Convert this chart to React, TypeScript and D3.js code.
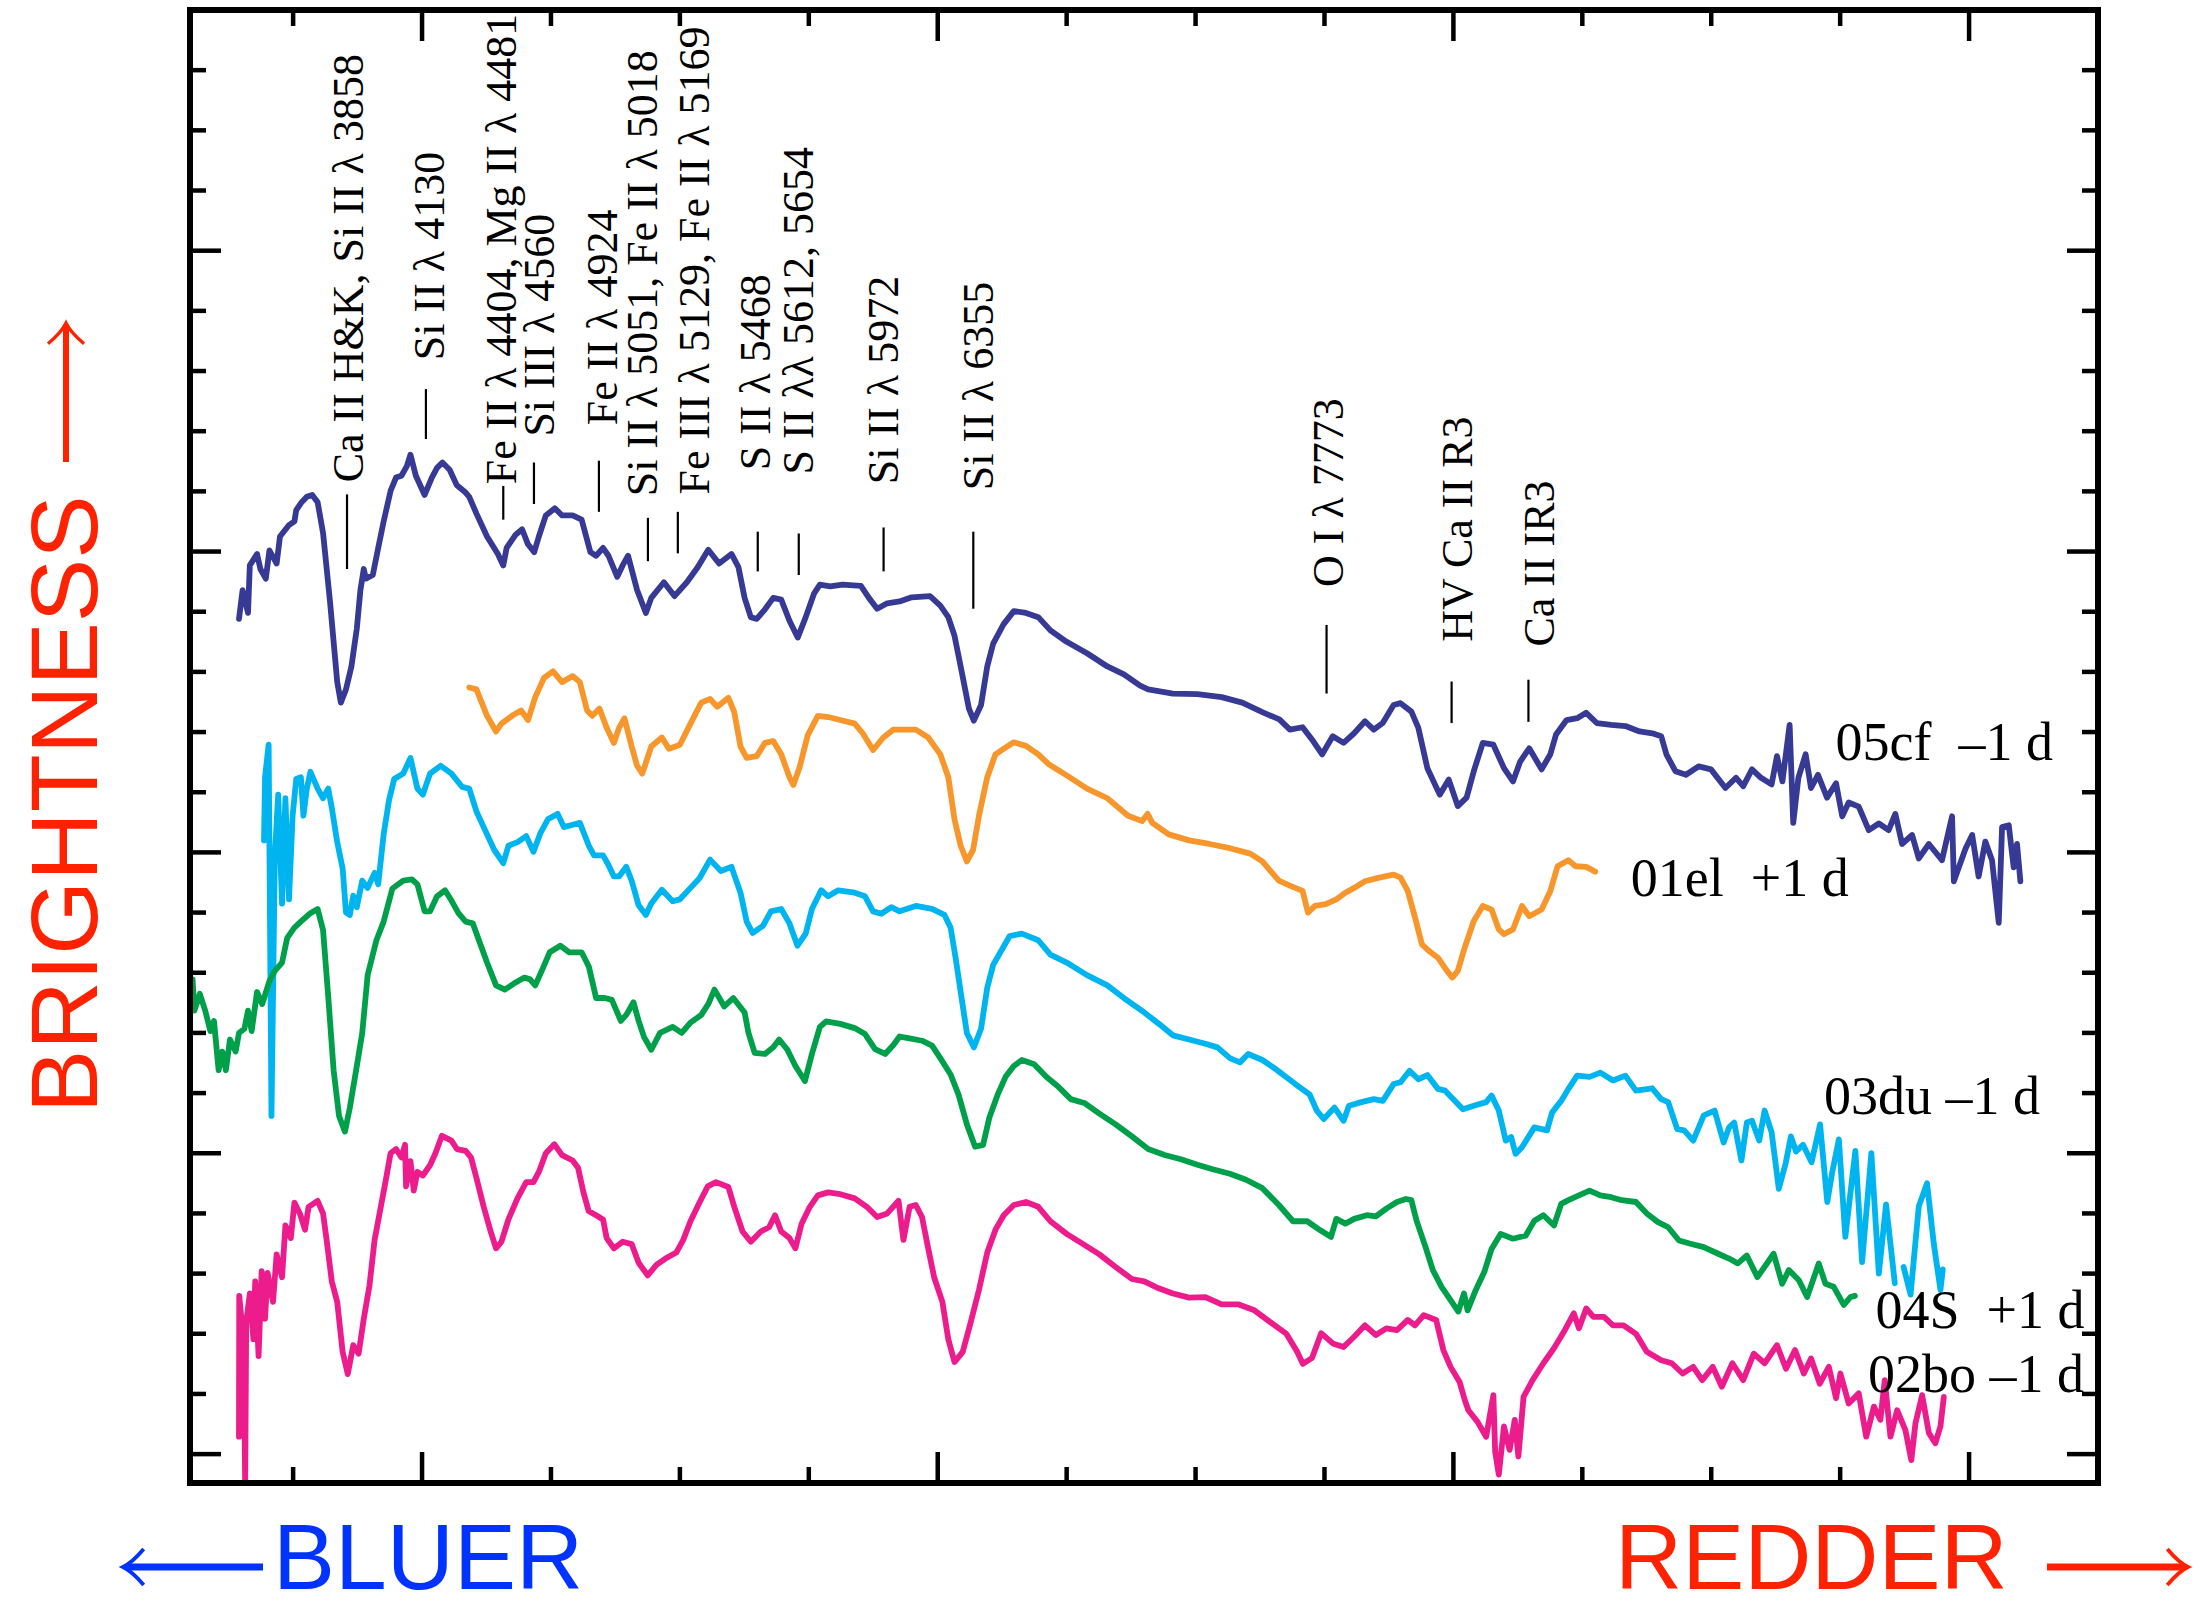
import React from "react";
import * as d3 from "d3";

type Pt = [number, number | null];

// Wavelength domain (Å) and flux domain (relative flux + offset, 1 unit = 1 tick)
const LAM_DOMAIN: [number, number] = [3100, 10500];
const FLUX_DOMAIN: [number, number] = [-0.48, 24];
const X_TICKS = d3.range(3500, 10001, 500);
const X_MAJOR = [4000, 6000, 8000, 10000];
const Y_TICKS = d3.range(0, 24, 1);

const sn05cf: Pt[] = [[3290,13.88],[3304,14.36],[3325,13.98],[3332,14.77],[3360,14.96],[3373,14.71],[3394,14.55],[3408,15.02],[3436,14.80],[3449,15.25],[3484,15.44],[3505,15.50],[3512,15.69],[3533,15.82],[3553,15.91],[3574,15.94],[3595,15.82],[3616,15.31],[3643,14.17],[3671,12.83],[3685,12.49],[3705,12.71],[3726,13.09],[3747,13.72],[3761,14.36],[3774,14.71],[3782,14.55],[3809,14.61],[3830,15.06],[3851,15.50],[3878,16.01],[3899,16.23],[3920,16.26],[3941,16.42],[3955,16.61],[3976,16.26],[4010,15.94],[4038,16.23],[4058,16.39],[4079,16.48],[4107,16.36],[4135,16.10],[4169,15.98],[4183,15.91],[4211,15.63],[4252,15.25],[4294,14.96],[4315,14.77],[4328,15.06],[4363,15.28],[4388,15.37],[4411,15.12],[4435,14.99],[4453,15.25],[4480,15.60],[4515,15.72],[4543,15.60],[4584,15.60],[4619,15.53],[4653,14.99],[4675,14.93],[4702,15.06],[4723,14.93],[4757,14.58],[4778,14.77],[4799,14.93],[4834,14.36],[4868,13.98],[4889,14.23],[4938,14.49],[4979,14.26],[5027,14.49],[5069,14.74],[5110,15.03],[5152,14.80],[5200,14.96],[5227,14.74],[5251,14.23],[5275,13.91],[5298,13.88],[5330,14.04],[5362,14.23],[5393,14.20],[5425,13.85],[5457,13.57],[5488,13.91],[5520,14.30],[5543,14.45],[5583,14.42],[5631,14.45],[5702,14.43],[5733,14.23],[5765,14.05],[5804,14.14],[5852,14.17],[5899,14.24],[5970,14.26],[6010,14.10],[6041,13.91],[6065,13.60],[6089,13.09],[6121,12.39],[6140,12.19],[6168,12.45],[6192,13.09],[6215,13.47],[6255,13.79],[6295,14.01],[6342,13.98],[6390,13.91],[6437,13.69],[6500,13.50],[6579,13.31],[6658,13.09],[6722,12.96],[6785,12.77],[6816,12.71],[6912,12.64],[7007,12.63],[7101,12.58],[7181,12.49],[7259,12.33],[7325,12.21],[7366,12.04],[7415,12.08],[7456,11.85],[7491,11.63],[7532,11.93],[7574,11.82],[7615,11.98],[7657,12.18],[7691,12.04],[7726,12.15],[7768,12.45],[7795,12.48],[7837,12.34],[7864,12.07],[7899,11.40],[7947,10.96],[7982,11.21],[8017,10.77],[8051,10.91],[8079,11.35],[8114,11.82],[8155,11.79],[8196,11.40],[8231,11.18],[8259,11.51],[8294,11.73],[8342,11.38],[8376,11.63],[8398,11.96],[8439,12.20],[8480,12.23],[8515,12.32],[8556,12.15],[8612,12.12],[8667,12.10],[8722,12.01],[8771,11.98],[8806,11.93],[8826,11.63],[8861,11.35],[8902,11.29],[8951,11.43],[8999,11.38],[9055,11.07],[9096,11.24],[9124,11.10],[9158,11.38],[9193,11.24],[9234,11.13],[9255,11.60],[9276,11.18],[9304,12.12],[9318,10.49],[9338,11.24],[9366,11.63],[9387,11.07],[9414,11.29],[9449,10.91],[9484,11.15],[9508,10.60],[9533,10.83],[9572,10.76],[9611,10.37],[9650,10.48],[9688,10.37],[9714,10.64],[9740,10.14],[9779,10.29],[9805,9.90],[9844,10.14],[9895,9.87],[9934,10.60],[9941,9.52],[9986,10.06],[10012,10.29],[10037,9.60],[10063,10.18],[10089,9.87],[10115,8.83],[10128,10.42],[10154,10.45],[10173,9.75],[10186,10.14],[10199,9.52]];

const sn01el: Pt[] = [[4183,12.74],[4211,12.71],[4252,12.27],[4287,12.01],[4308,12.14],[4349,12.27],[4384,12.36],[4411,12.20],[4439,12.58],[4473,12.90],[4508,13.01],[4543,12.83],[4584,12.93],[4612,12.83],[4640,12.36],[4660,12.27],[4688,12.39],[4716,12.07],[4744,11.82],[4764,12.07],[4785,12.23],[4813,11.76],[4834,11.44],[4854,11.31],[4889,11.76],[4930,11.91],[4958,11.72],[5000,11.79],[5041,12.14],[5083,12.49],[5117,12.55],[5145,12.42],[5188,12.57],[5211,12.33],[5235,11.76],[5259,11.57],[5298,11.60],[5330,11.82],[5362,11.85],[5393,11.63],[5425,11.25],[5440,11.12],[5464,11.41],[5496,11.95],[5535,12.27],[5575,12.25],[5622,12.20],[5678,12.14],[5709,11.98],[5749,11.70],[5789,11.91],[5828,12.04],[5915,12.04],[5963,11.91],[6010,11.63],[6041,11.25],[6065,10.55],[6089,10.11],[6113,9.85],[6137,10.04],[6160,10.61],[6192,11.25],[6224,11.63],[6255,11.72],[6295,11.83],[6342,11.77],[6390,11.63],[6429,11.47],[6500,11.28],[6579,11.06],[6658,10.90],[6738,10.61],[6793,10.52],[6814,10.64],[6832,10.49],[6896,10.30],[6975,10.20],[7054,10.14],[7133,10.07],[7212,9.98],[7259,9.85],[7323,9.53],[7370,9.44],[7415,9.36],[7436,9.00],[7463,9.11],[7505,9.14],[7546,9.22],[7581,9.33],[7615,9.41],[7657,9.52],[7712,9.58],[7768,9.63],[7795,9.58],[7823,9.36],[7851,8.92],[7878,8.47],[7906,8.36],[7940,8.25],[7975,8.03],[7996,7.92],[8017,8.03],[8044,8.42],[8079,8.86],[8114,9.11],[8148,9.05],[8176,8.72],[8196,8.64],[8231,8.72],[8266,9.11],[8294,8.94],[8342,9.05],[8376,9.36],[8404,9.77],[8446,9.87],[8474,9.77],[8515,9.76],[8550,9.68]];

const sn03du: Pt[] = [[3387,10.20],[3391,11.25],[3405,11.79],[3416,5.62],[3429,9.95],[3442,10.96],[3457,9.15],[3470,10.90],[3484,9.22],[3498,10.61],[3512,11.22],[3530,11.25],[3540,10.61],[3553,11.06],[3567,11.34],[3595,11.06],[3616,10.90],[3636,11.06],[3650,10.74],[3671,10.17],[3692,9.73],[3705,9.00],[3720,8.96],[3733,9.28],[3747,9.09],[3768,9.53],[3789,9.41],[3816,9.66],[3830,9.47],[3851,10.30],[3872,10.87],[3892,11.22],[3927,11.31],[3955,11.57],[3982,11.06],[4003,10.96],[4031,11.31],[4072,11.44],[4114,11.31],[4155,11.09],[4183,11.06],[4211,10.68],[4252,10.30],[4280,10.04],[4315,9.82],[4335,10.11],[4370,10.17],[4404,10.27],[4432,10.01],[4460,10.33],[4488,10.55],[4526,10.64],[4550,10.42],[4584,10.46],[4612,10.49],[4647,10.11],[4667,9.95],[4702,9.95],[4723,9.79],[4744,9.60],[4764,9.60],[4792,9.76],[4813,9.53],[4840,9.12],[4868,8.96],[4889,9.15],[4930,9.38],[4972,9.19],[5000,9.22],[5041,9.41],[5076,9.57],[5117,9.88],[5159,9.69],[5200,9.76],[5235,9.33],[5259,8.85],[5282,8.66],[5322,8.78],[5353,9.02],[5393,9.06],[5425,8.82],[5456,8.45],[5488,8.65],[5512,9.06],[5548,9.37],[5575,9.27],[5614,9.37],[5678,9.33],[5718,9.27],[5749,9.02],[5781,8.98],[5820,9.09],[5852,9.02],[5915,9.11],[5978,9.06],[6026,8.96],[6050,8.75],[6070,8.23],[6089,7.68],[6113,7.00],[6140,6.76],[6168,7.07],[6192,7.75],[6215,8.13],[6247,8.37],[6279,8.61],[6326,8.65],[6390,8.54],[6437,8.30],[6500,8.17],[6579,7.96],[6658,7.79],[6722,7.58],[6801,7.34],[6864,7.13],[6912,6.96],[6975,6.89],[7038,6.82],[7085,6.76],[7133,6.58],[7172,6.51],[7204,6.65],[7259,6.55],[7307,6.41],[7387,6.15],[7442,5.98],[7470,5.71],[7497,5.57],[7539,5.76],[7574,5.54],[7595,5.79],[7643,5.85],[7691,5.90],[7726,5.87],[7768,6.15],[7795,6.18],[7830,6.37],[7864,6.23],[7899,6.30],[7940,6.07],[7968,6.04],[8037,5.73],[8079,5.79],[8127,5.85],[8148,5.96],[8176,5.71],[8203,5.21],[8224,5.27],[8241,4.99],[8266,5.10],[8314,5.43],[8363,5.38],[8383,5.68],[8418,5.87],[8446,6.07],[8480,6.29],[8528,6.27],[8570,6.34],[8619,6.21],[8667,6.29],[8708,6.04],[8771,6.08],[8806,5.90],[8833,5.85],[8868,5.40],[8895,5.38],[8930,5.21],[8971,5.63],[9013,5.71],[9048,5.18],[9069,5.43],[9089,5.51],[9117,4.88],[9138,5.51],[9158,5.54],[9186,5.21],[9207,5.71],[9234,5.35],[9262,4.41],[9289,4.84],[9309,5.28],[9329,5.03],[9356,5.14],[9389,4.85],[9422,5.48],[9450,4.19],[9469,4.68],[9495,5.23],[9520,3.61],[9559,5.04],[9585,3.19],[9621,5.00],[9650,3.00],[9678,4.15],[9712,2.84],[9729,null],[9746,3.11],[9773,2.65],[9805,4.12],[9837,4.50],[9863,3.50],[9889,2.73],[9898,3.07]];

const sn04S: Pt[] = [[3110,7.89],[3117,7.37],[3138,7.65],[3159,7.37],[3179,7.03],[3193,7.20],[3211,6.38],[3225,6.69],[3239,6.38],[3255,6.89],[3277,6.69],[3290,7.00],[3311,7.07],[3325,7.37],[3339,7.03],[3360,7.68],[3380,7.48],[3408,7.86],[3429,8.03],[3457,8.17],[3477,8.58],[3505,8.75],[3540,8.89],[3567,8.99],[3595,9.06],[3616,8.71],[3636,7.61],[3657,6.38],[3678,5.62],[3701,5.36],[3720,5.76],[3747,6.45],[3768,7.00],[3789,7.96],[3823,8.54],[3851,8.85],[3885,9.40],[3927,9.53],[3961,9.55],[3982,9.47],[4010,9.02],[4031,9.02],[4058,9.27],[4089,9.37],[4114,9.20],[4141,8.99],[4169,8.85],[4197,8.82],[4217,8.58],[4252,8.17],[4287,7.79],[4321,7.72],[4356,7.82],[4397,7.92],[4419,7.89],[4439,7.79],[4467,8.06],[4495,8.34],[4536,8.45],[4571,8.34],[4619,8.34],[4647,8.10],[4675,7.58],[4709,7.58],[4736,7.55],[4771,7.20],[4792,7.30],[4820,7.51],[4840,7.20],[4861,6.93],[4889,6.72],[4923,7.00],[4972,7.10],[5007,7.00],[5041,7.17],[5083,7.30],[5110,7.48],[5134,7.72],[5172,7.44],[5207,7.58],[5251,7.34],[5266,7.00],[5290,6.67],[5330,6.65],[5362,6.76],[5385,6.89],[5417,6.72],[5448,6.45],[5485,6.20],[5512,6.65],[5543,7.10],[5567,7.19],[5622,7.15],[5678,7.08],[5718,6.98],[5757,6.73],[5796,6.65],[5828,6.80],[5852,6.94],[5891,6.91],[5939,6.87],[5978,6.79],[6010,6.58],[6050,6.31],[6081,5.97],[6113,5.48],[6145,5.11],[6176,5.14],[6200,5.59],[6232,5.97],[6263,6.27],[6295,6.45],[6326,6.55],[6374,6.48],[6421,6.27],[6469,6.10],[6516,5.90],[6571,5.83],[6627,5.66],[6690,5.48],[6753,5.28],[6816,5.07],[6880,4.97],[6943,4.90],[7007,4.81],[7070,4.73],[7133,4.66],[7196,4.56],[7259,4.42],[7323,4.14],[7378,3.87],[7433,3.87],[7484,3.72],[7525,3.61],[7546,3.91],[7581,3.83],[7615,3.91],[7664,3.97],[7699,3.95],[7740,4.08],[7781,4.19],[7816,4.24],[7837,4.22],[7857,3.88],[7892,3.44],[7920,3.06],[7954,2.78],[7989,2.56],[8019,2.37],[8041,2.67],[8055,2.39],[8086,2.72],[8120,3.03],[8148,3.41],[8183,3.66],[8231,3.58],[8280,3.63],[8314,3.88],[8349,3.97],[8390,3.80],[8418,4.16],[8446,4.22],[8487,4.30],[8528,4.38],[8570,4.30],[8612,4.27],[8653,4.22],[8708,4.19],[8750,4.00],[8792,3.86],[8833,3.77],[8875,3.55],[8916,3.50],[8971,3.44],[9027,3.33],[9069,3.25],[9103,3.17],[9138,3.30],[9179,2.94],[9242,3.33],[9275,2.83],[9301,3.06],[9340,2.89],[9372,2.61],[9417,3.17],[9443,2.83],[9475,2.78],[9514,2.48],[9540,2.61],[9557,2.63]];

const sn02bo: Pt[] = [[3290,0.29],[3291,2.63],[3308,1.84],[3314,-0.49],[3318,2.19],[3332,2.67],[3346,1.91],[3353,2.87],[3366,1.63],[3378,3.04],[3391,2.25],[3401,3.01],[3422,2.53],[3436,3.32],[3457,2.94],[3470,3.80],[3491,3.59],[3505,4.18],[3526,4.00],[3546,3.73],[3560,4.11],[3595,4.21],[3616,4.00],[3629,3.59],[3650,2.87],[3671,2.53],[3692,1.70],[3712,1.33],[3733,1.81],[3754,1.67],[3774,2.25],[3796,2.80],[3816,3.56],[3837,4.04],[3858,4.52],[3878,5.00],[3899,5.07],[3920,4.93],[3934,5.14],[3938,4.45],[3955,4.87],[3968,4.38],[3982,4.69],[4003,4.63],[4031,4.80],[4052,5.00],[4077,5.29],[4114,5.21],[4135,5.07],[4169,5.04],[4190,4.93],[4211,4.59],[4239,4.11],[4266,3.70],[4287,3.42],[4308,3.53],[4335,3.90],[4370,4.25],[4404,4.52],[4432,4.52],[4453,4.69],[4480,5.00],[4513,5.15],[4543,4.97],[4584,4.88],[4605,4.76],[4626,4.35],[4646,4.04],[4675,3.97],[4702,3.90],[4716,3.59],[4744,3.42],[4778,3.53],[4813,3.49],[4840,3.18],[4875,2.97],[4910,3.15],[4944,3.25],[4986,3.35],[5013,3.56],[5041,3.87],[5076,4.18],[5108,4.45],[5140,4.52],[5188,4.44],[5211,4.11],[5243,3.70],[5275,3.53],[5314,3.70],[5346,3.77],[5369,3.97],[5393,3.70],[5425,3.59],[5448,3.42],[5472,3.83],[5504,4.11],[5535,4.30],[5575,4.35],[5622,4.32],[5678,4.25],[5725,4.11],[5765,3.94],[5804,4.00],[5848,4.21],[5867,3.56],[5891,4.11],[5915,4.14],[5939,3.94],[5963,3.42],[5986,2.94],[6018,2.53],[6041,1.91],[6065,1.53],[6097,1.70],[6128,2.19],[6160,2.73],[6192,3.35],[6224,3.73],[6256,3.97],[6295,4.14],[6342,4.19],[6390,4.11],[6437,3.87],[6500,3.66],[6564,3.49],[6627,3.32],[6690,3.11],[6753,2.91],[6801,2.87],[6849,2.77],[6912,2.67],[6975,2.60],[7038,2.61],[7101,2.49],[7165,2.49],[7228,2.39],[7291,2.19],[7352,2.00],[7394,1.70],[7416,1.50],[7452,1.60],[7487,2.01],[7532,1.84],[7574,1.78],[7615,1.95],[7657,2.14],[7699,1.98],[7740,2.09],[7781,2.06],[7823,2.23],[7851,2.14],[7885,2.31],[7933,2.23],[7961,1.73],[7989,1.45],[8024,1.20],[8044,0.90],[8058,0.73],[8093,0.54],[8127,0.29],[8155,0.98],[8162,0.04],[8176,-0.34],[8196,0.46],[8218,0.07],[8238,0.57],[8252,-0.04],[8272,0.95],[8307,1.23],[8349,1.51],[8390,1.76],[8432,2.06],[8467,2.34],[8487,2.09],[8515,2.42],[8543,2.28],[8584,2.28],[8619,2.14],[8660,2.14],[8708,2.00],[8750,1.70],[8806,1.56],[8847,1.51],[8889,1.34],[8930,1.45],[8965,1.23],[9006,1.45],[9041,1.12],[9082,1.51],[9124,1.23],[9165,1.67],[9207,1.51],[9255,1.81],[9290,1.42],[9325,1.73],[9359,1.34],[9387,1.59],[9421,1.17],[9456,1.45],[9484,0.93],[9501,1.34],[9533,0.84],[9572,1.01],[9601,0.29],[9631,0.79],[9656,0.57],[9673,1.23],[9695,0.29],[9721,0.73],[9753,0.40],[9776,-0.10],[9792,0.51],[9818,0.98],[9844,0.35],[9869,0.18],[9889,0.46],[9902,0.95]];

// Series names, label text and label anchor (wavelength, flux)
const SERIES_NAMES = ["05cf", "01el", "03du", "04S", "02bo"];
const SERIES_DATA = [sn05cf, sn01el, sn03du, sn04S, sn02bo];
const SERIES_COLORS = ["#363A95", "#F7962B", "#00B5EF", "#00A04B", "#EC1C8C"];
const SERIES_LABELS = ["05cf  \u20131 d", "01el  +1 d", "03du \u20131 d", "04S  +1 d", "02bo \u20131 d"];
const SERIES_LABEL_LAM = [9482, 8688, 9437, 9637, 9608];
const SERIES_LABEL_FLUX = [11.53, 9.27, 5.65, 2.09, 1.04];

// Line identifications: text, marker wavelength, marker flux range, text baseline wavelength, text start flux
const LINE_TEXT = [
  "Ca II H&K, Si II \u03bb 3858",
  "Si II \u03bb 4130",
  "Fe II \u03bb 4404, Mg II \u03bb 4481",
  "Si III \u03bb 4560",
  "Fe II \u03bb 4924",
  "Si II \u03bb 5051, Fe II \u03bb 5018",
  "Fe III \u03bb 5129, Fe II \u03bb 5169",
  "S II \u03bb 5468",
  "S II \u03bb\u03bb 5612, 5654",
  "Si II \u03bb 5972",
  "Si II \u03bb 6355",
  "O I \u03bb 7773",
  "HV Ca II R3",
  "Ca II IR3",
];
const LINE_MARK_LAM = [3709, 4015, 4315, 4434, 4686, 4876, 4992, 5302, 5461, 5790, 6138, 7508, 7993, 8291];
const LINE_MARK_F1 = [14.71, 16.87, 15.53, 15.79, 15.66, 14.84, 14.97, 14.67, 14.61, 14.67, 14.05, 12.64, 12.15, 12.17];
const LINE_MARK_F2 = [15.95, 17.70, 16.09, 16.48, 16.51, 15.56, 15.66, 15.33, 15.30, 15.40, 15.33, 13.78, 12.84, 12.87];
const LINE_TEXT_LAM = [3771, 4086, 4363, 4513, 4757, 4913, 5114, 5349, 5518, 5847, 6213, 7570, 8071, 8390];
const LINE_TEXT_FLUX = [16.15, 18.18, 16.12, 16.91, 17.10, 15.92, 15.95, 16.35, 16.28, 16.12, 16.02, 14.41, 13.50, 13.42];

const W = 2199;
const H = 1608;
const SERIF = "'Liberation Serif', 'Times New Roman', Times, serif";
const SANS = "'Liberation Sans', Arial, Helvetica, sans-serif";
const RED = "#FF2200";
const BLUE = "#0033FF";

function Arrow({ x1, y1, x2, y2, color, width, head }: any) {
  // arrow from (x1,y1) tail to (x2,y2) tip
  const ang = Math.atan2(y2 - y1, x2 - x1);
  const ux = Math.cos(ang), uy = Math.sin(ang);
  const px = -uy, py = ux;
  const L = head * 1.15, hw = head;
  const bx = x2 - ux * L, by = y2 - uy * L;
  const b1x = bx + px * hw, b1y = by + py * hw;
  const b2x = bx - px * hw, b2y = by - py * hw;
  const c1x = x2 - ux * L * 0.45 + px * hw * 0.25, c1y = y2 - uy * L * 0.45 + py * hw * 0.25;
  const c2x = x2 - ux * L * 0.45 - px * hw * 0.25, c2y = y2 - uy * L * 0.45 - py * hw * 0.25;
  return (
    <g stroke={color} fill="none" strokeLinecap="butt">
      <line x1={x1} y1={y1} x2={x2 - ux * 3} y2={y2 - uy * 3} strokeWidth={width} />
      <path d={`M${b1x},${b1y} Q${c1x},${c1y} ${x2},${y2} Q${c2x},${c2y} ${b2x},${b2y}`} strokeWidth={width * 0.55} />
    </g>
  );
}

export default function App() {
  const x = d3.scaleLinear().domain(LAM_DOMAIN).range([190, 2098]);
  const y = d3.scaleLinear().domain(FLUX_DOMAIN).range([1483, 10]);
  const line = d3
    .line<Pt>()
    .defined((d) => d[1] !== null)
    .x((d) => x(d[0]))
    .y((d) => y(d[1] as number));

  const xL = x(LAM_DOMAIN[0]);
  const xR = x(LAM_DOMAIN[1]);
  const yT = y(FLUX_DOMAIN[1]);
  const yB = y(FLUX_DOMAIN[0]);
  const minorLen = 16;
  const majorLen = 31;

  return (
    <svg width={W} height={H} style={{ position: "absolute", left: 0, top: 0, background: "#fff" }}>
      <rect x={0} y={0} width={W} height={H} fill="#fff" />
      <defs>
        <clipPath id="plotclip">
          <rect x={xL} y={yT} width={xR - xL} height={yB - yT} />
        </clipPath>
      </defs>

      {/* spectra */}
      <g clipPath="url(#plotclip)">
        {SERIES_DATA.map((data, i) => (
          <path
            key={SERIES_NAMES[i]}
            d={line(data) || ""}
            fill="none"
            stroke={SERIES_COLORS[i]}
            strokeWidth={5.8}
            strokeLinejoin="round"
            strokeLinecap="round"
          />
        ))}
      </g>

      {/* frame */}
      <rect x={xL} y={yT} width={xR - xL} height={yB - yT} fill="none" stroke="#000" strokeWidth={6} />

      {/* ticks */}
      <g stroke="#000" strokeWidth={4.5}>
        {X_TICKS.map((t) => {
          const len = X_MAJOR.includes(t) ? majorLen : minorLen;
          return (
            <g key={"xt" + t}>
              <line x1={x(t)} x2={x(t)} y1={yB} y2={yB - len} />
              <line x1={x(t)} x2={x(t)} y1={yT} y2={yT + len} />
            </g>
          );
        })}
        {Y_TICKS.map((t) => {
          const len = t % 5 === 0 ? majorLen : minorLen;
          return (
            <g key={"yt" + t}>
              <line x1={xL} x2={xL + len} y1={y(t)} y2={y(t)} />
              <line x1={xR} x2={xR - len} y1={y(t)} y2={y(t)} />
            </g>
          );
        })}
      </g>

      {/* line identification markers */}
      <g stroke="#000" strokeWidth={2.2}>
        {LINE_MARK_LAM.map((lam, i) => (
          <line key={"lm" + i} x1={x(lam)} x2={x(lam)} y1={y(LINE_MARK_F1[i])} y2={y(LINE_MARK_F2[i])} />
        ))}
      </g>
      <g fontFamily={SERIF} fontSize={44} fill="#000">
        {LINE_TEXT.map((t, i) => (
          <text
            key={"lt" + i}
            transform={`translate(${x(LINE_TEXT_LAM[i])},${y(LINE_TEXT_FLUX[i])}) rotate(-90)`}
            style={{ whiteSpace: "pre" }}
          >
            {t}
          </text>
        ))}
      </g>

      {/* series labels */}
      <g fontFamily={SERIF} fontSize={54} fill="#000">
        {SERIES_LABELS.map((t, i) => (
          <text
            key={"sl" + i}
            x={x(SERIES_LABEL_LAM[i])}
            y={y(SERIES_LABEL_FLUX[i])}
            style={{ whiteSpace: "pre" }}
            xmlSpace="preserve"
          >
            {t}
          </text>
        ))}
      </g>

      {/* axis titles */}
      <text transform={`translate(97,1113) rotate(-90)`} fontFamily={SANS} fontSize={95} fill={RED}>
        BRIGHTNESS
      </text>
      <Arrow x1={66} y1={462} x2={66} y2={323} color={RED} width={6} head={18} />

      <text x={273} y={1589} fontFamily={SANS} fontSize={93} fill={BLUE}>
        BLUER
      </text>
      <Arrow x1={263} y1={1567} x2={123} y2={1567} color={BLUE} width={7} head={18} />

      <text x={1615} y={1589} fontFamily={SANS} fontSize={93} fill={RED}>
        REDDER
      </text>
      <Arrow x1={2047} y1={1567} x2={2188} y2={1567} color={RED} width={7} head={18} />
    </svg>
  );
}
